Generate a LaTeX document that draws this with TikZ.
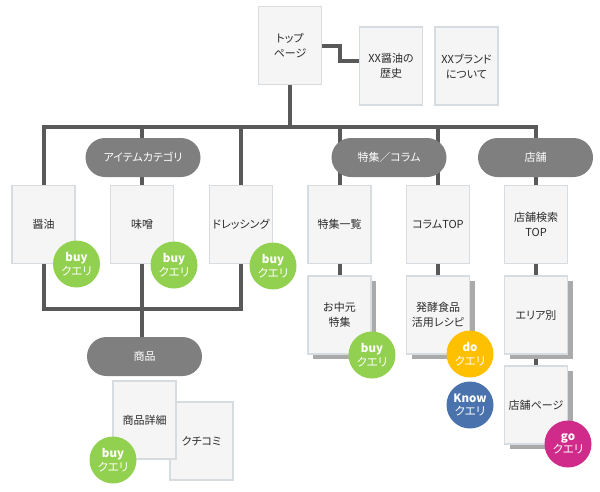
\documentclass[tikz,border=0pt]{standalone}
\usepackage{fontspec}
\setmainfont[RawFeature=+palt]{Noto Sans CJK JP}
\usetikzlibrary{backgrounds,shadows}

\definecolor{linegray}{HTML}{595959}
\definecolor{boxfill}{HTML}{F5F5F5}
\definecolor{boxedge}{HTML}{D6DCE0}
\definecolor{textgray}{HTML}{2B2B2B}
\definecolor{pillgray}{HTML}{7F7F7F}
\definecolor{shadowgray}{HTML}{AAAAAA}
\definecolor{buygreen}{HTML}{92D050}
\definecolor{doyellow}{HTML}{FFC000}
\definecolor{knowblue}{HTML}{4A72AC}
\definecolor{gomagenta}{HTML}{D02A8A}

\begin{document}
\begin{tikzpicture}[x=1pt,y=-1pt,line join=miter,
    page/.style={rectangle,draw=boxedge,fill=boxfill,line width=1.5pt,
      minimum width=63pt,minimum height=78pt,inner sep=2pt,align=center,
      text=textgray,font=\fontsize{11}{15}\selectfont},
    stacked/.style={page,drop shadow={shadow xshift=5pt,shadow yshift=-5pt,
      fill=shadowgray,opacity=1}},
    pill/.style={rectangle,rounded corners=19.5pt,fill=pillgray,text=white,
      minimum width=115pt,minimum height=39pt,font=\fontsize{11}{13}\selectfont},
    query/.style={circle,minimum size=47pt,inner sep=0pt,text=white,
      align=center,font=\fontsize{11.5}{13.5}\selectfont},
    link/.style={draw=linegray,line width=4pt}]

    \useasboundingbox (0,0) rectangle (600,491);

    % top level
    \node[page] (top) at (290,45.5) {トップ\\ページ};
    \node[page] (hist) at (391,66) {XX醤油の\\歴史};
    \node[page] (brand) at (466.5,66) {XXブランド\\について};

    % categories
    \node[pill] (items) at (143,157.5) {アイテムカテゴリ};
    \node[pill] (feature) at (389,157.5) {特集／コラム};
    \node[pill] (shops) at (535.5,157.5) {店舗};

    \node[page] (soy) at (43.5,224.5) {醤油};
    \node[page] (miso) at (142,224.5) {味噌};
    \node[page] (dress) at (241,224.5) {ドレッシング};
    \node[page] (list) at (339.5,224.5) {特集一覧};
    \node[page] (column) at (438,224.5) {コラムTOP};
    \node[page] (search) at (536,224.5) {店舗検索\\TOP};

    \node[stacked] (summer) at (339.5,315) {お中元\\特集};
    \node[stacked] (recipe) at (438,315) {発酵食品\\活用レシピ};
    \node[stacked] (area) at (536,315) {エリア別};
    \node[stacked] (shop) at (536,405) {店舗ページ};

    % goods
    \node[pill] (goods) at (144.5,356.5) {商品};
    \node[page] (review) at (201.5,441) {クチコミ};
    \node[page] (detail) at (144.5,420) {商品詳細};

    % queries
    \node[query,fill=buygreen] (q1) at (76.5,264) {\textbf{buy}\\クエリ};
    \node[query,fill=buygreen] (q2) at (174,265) {\textbf{buy}\\クエリ};
    \node[query,fill=buygreen] (q3) at (273,266) {\textbf{buy}\\クエリ};
    \node[query,fill=buygreen] (q4) at (372,355) {\textbf{buy}\\クエリ};
    \node[query,fill=doyellow] (q5) at (470,354) {\textbf{do}\\クエリ};
    \node[query,fill=knowblue] (q6) at (470,405) {\textbf{Know}\\クエリ};
    \node[query,fill=gomagenta] (q7) at (568,444) {\textbf{go}\\クエリ};
    \node[query,fill=buygreen] (q8) at (113,460) {\textbf{buy}\\クエリ};

    \coordinate (bar) at (290,127);
    \coordinate (join) at (142,309);

    \begin{pgfonlayer}{background}
    \draw[link] (top.east) -- ++(18,0) |- ([yshift=5pt]hist.west);
    \draw[link] (top.south) -- (bar);
    \foreach \n in {soy,miso,dress,list,column,search}
      \draw[link] (\n.north) |- (bar);
    \draw[link] (soy.south) |- (join);
    \draw[link] (dress.south) |- (join);
    \draw[link] (miso.south) -- (miso.south |- goods.north);
    \draw[link] (list.south) -- (summer.north);
    \draw[link] (column.south) -- (recipe.north);
    \draw[link] (search.south) -- (area.north);
    \draw[link] (area.south) -- (shop.north);
    \end{pgfonlayer}
\end{tikzpicture}
\end{document}
